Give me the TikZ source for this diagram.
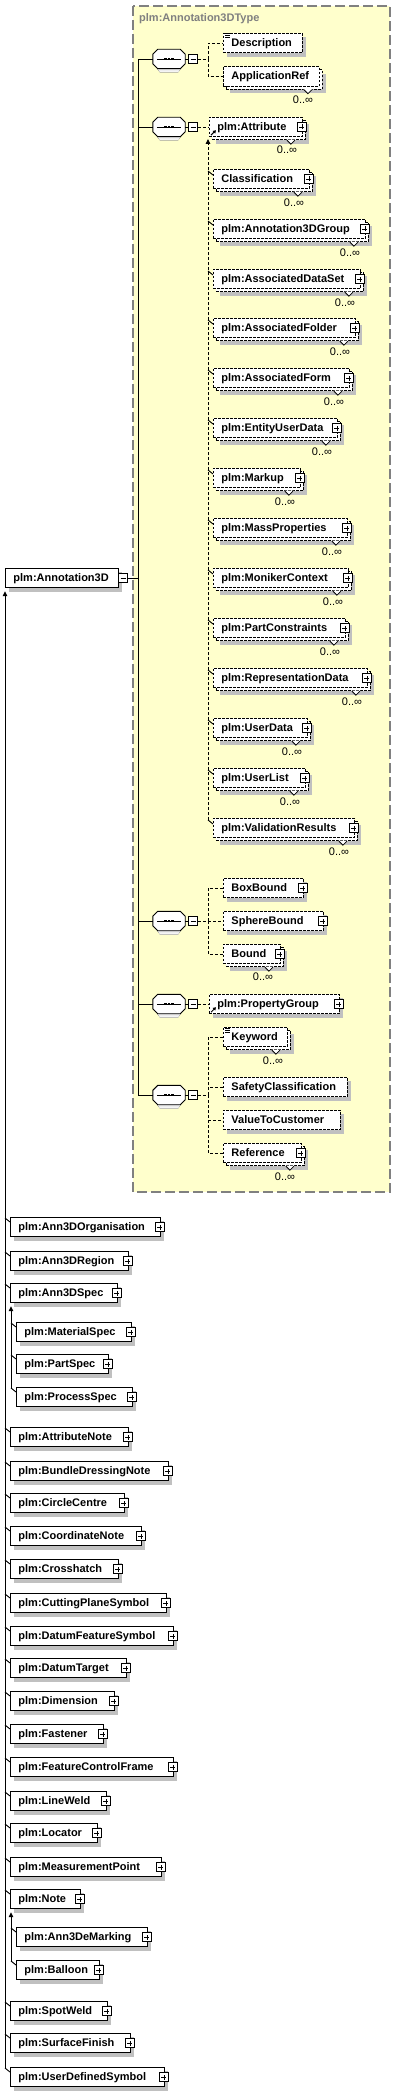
\documentclass[tikz,border=0pt]{standalone}
\usepackage{fontspec}
\usetikzlibrary{shadows}
\usetikzlibrary{arrows.meta}
\newfontfamily\xsdfont{Liberation Sans}
\newcommand{\elemfont}{\xsdfont\bfseries\fontsize{11}{13}\selectfont}
\newcommand{\occfont}{\xsdfont\fontsize{11}{13}\selectfont}
\definecolor{typebg}{RGB}{255,255,204}
\definecolor{typeline}{RGB}{128,128,128}
\definecolor{shade}{RGB}{192,192,192}
\tikzset{box/.style={draw, fill=white, line width=.9pt, anchor=west,
   inner xsep=8pt, inner ysep=0pt, minimum height=19.5pt,
   text height=8.5pt, text depth=1.5pt, align=left, font=\elemfont},
 optional/.style={dash pattern=on 2.5pt off 1.5pt},
 single/.style={box, drop shadow={shadow xshift=4pt, shadow yshift=-4pt,
   fill=shade, draw=none, opacity=1}},
 multi/.style={box,
   general shadow={shadow xshift=7pt, shadow yshift=-7pt, fill=shade, draw=none},
   general shadow={shadow xshift=3pt, shadow yshift=-3pt, fill=white, draw=black,
     line width=.9pt, dash pattern=on 2.5pt off 1.5pt}},
 seqbox/.style={minimum width=32pt, minimum height=19pt, inner sep=0pt},
 octagon/.pic={\fill[shade] (9,4) -- (-9,4) -- (-12,8) -- (-12,19) -- (-9,23)
     -- (9,23) -- (12,19) -- (12,8) -- cycle;},
 btn/.style={draw, fill=white, line width=.7pt, minimum size=9pt, inner sep=0pt},
 minusbtn/.style={btn, path picture={
   \draw[line width=.7pt] ([xshift=2pt]path picture bounding box.west)
     -- ([xshift=-2pt]path picture bounding box.east);}},
 plusbtn/.style={btn, path picture={
   \draw[line width=.7pt] ([xshift=2pt]path picture bounding box.west)
     -- ([xshift=-2pt]path picture bounding box.east)
     ([yshift=2pt]path picture bounding box.south)
     -- ([yshift=-2pt]path picture bounding box.north);}},
 occ/.style={font=\occfont, inner sep=0pt},
 conn/.style={line width=.9pt},
 dconn/.style={conn, dash pattern=on 3pt off 2pt},
 subarrow/.style={conn, -{Triangle[width=4.5pt,length=5pt]}},
 notch/.pic={\fill[white] (-4.5,-0.6) -- (4.5,-0.6) -- (0,4) -- cycle;
   \draw[line width=.8pt] (-4,0) -- (0,4) -- (4,0);},
 simple/.pic={\draw[line width=.6pt] (0,0) -- (5,0) (0,2) -- (5,2) (0,4) -- (5,4);},
 refmark/.pic={\draw[line width=1pt,-{Triangle[width=3.5pt,length=3pt]}] (0,0) -- (5,-5);},
}

\begin{document}
\begin{tikzpicture}[x=1pt,y=-1pt]
    \fill[white] (0,0) rectangle (401,2092);
    \useasboundingbox (0,0) rectangle (401,2092);

    % complex type frame
    \draw[typeline, fill=typebg, line width=1.2pt, dash pattern=on 10pt off 4pt] (133,6) rectangle (390,1192);
    \node[font=\elemfont, text=typeline, inner sep=0pt, anchor=west] (typename) at (139,19) {plm:Annotation3DType};

    % root element
    \node[single, text width=97pt] (annot) at (5,578) {plm:Annotation3D};
    \node[minusbtn] (annot-btn) at (123,578) {};
    \coordinate (spine) at (138,578);
    \draw[conn] (annot-btn) -- (spine);

    % sequences
    \foreach \yy [count=\s] in {59,127,921,1004,1095} {
        \node[seqbox] (seq\s) at (169,\yy) {};
        \pic at ([shift={(0,-9.5)}]seq\s.center) {octagon};
        \draw[conn, fill=white] ([shift={(5,0)}]seq\s.north west) -- ([shift={(-5,0)}]seq\s.north east)
            -- ([shift={(0,5)}]seq\s.north east) -- ([shift={(0,-5)}]seq\s.south east)
            -- ([shift={(-5,0)}]seq\s.south east) -- ([shift={(5,0)}]seq\s.south west)
            -- ([shift={(0,-5)}]seq\s.south west) -- ([shift={(0,5)}]seq\s.north west) -- cycle;
        \node[minusbtn] (seq\s-btn) at (193,\yy) {};
        \draw[conn] (seq\s.west) -| (spine);
        \draw[conn] (seq\s.east) -- (seq\s-btn.west);
        \draw[conn] ([shift={(4,0)}]seq\s.west) -- ([shift={(-4,0)}]seq\s.east);
        \foreach \d in {-3.5,0,3.5}
            \fill ([shift={(\d-1.2,-1.2)}]seq\s.center) rectangle ++(2.4,2.4);
    }

    % sequence 1
    \coordinate (fork1) at (208,59);
    \node[single, optional, text width=63pt] (desc) at (223,43) {Description};
    \pic at ([shift={(2,1)}]desc.north west) {simple};
    \node[multi, optional, text width=80pt] (appref) at (223,76.5) {ApplicationRef};
    \pic at ([shift={(-12,3)}]appref.south east) {notch};
    \node[occ] (appref-occ) at (303,100) {0..∞};
    \draw[dconn] (seq1-btn.east) -- (fork1) |- (desc.west);
    \draw[dconn] (fork1) |- (appref.west);

    % sequence 2: plm:Attribute and its substitutes
    \node[multi, optional, text width=77pt] (attr) at (209,127) {plm:Attribute};
    \node[plusbtn] (attr-btn) at ([shift={(-1,0)}]attr.east) {};
    \pic at ([shift={(-12,3)}]attr.south east) {notch};
    \pic at ([shift={(2,-2)}]attr.south west) {refmark};
    \node[occ] (attr-occ) at (287,150) {0..∞};
    \draw[dconn] (seq2-btn.east) -- (attr.west);
    \coordinate (attr-sub) at (208,139);
    \coordinate (attr-end) at (208,820);
    \draw[dconn, subarrow] (attr-end) -- (attr-sub);
    \foreach \name/\outer/\yy [count=\i] in {Classification/312/179,
        plm:Annotation3DGroup/368/229, plm:AssociatedDataSet/363/279,
        plm:AssociatedFolder/358/328, plm:AssociatedForm/352/378,
        plm:EntityUserData/340/428, plm:Markup/303/478,
        plm:MassProperties/350/528, plm:MonikerContext/351/578,
        plm:PartConstraints/348/628, plm:RepresentationData/370/678,
        plm:UserData/310/728, plm:UserList/308/778,
        plm:ValidationResults/357/828} {
        \pgfmathsetmacro\tw{\outer-3-213-16}
        \node[multi, optional, text width=\tw pt] (sub\i) at (213,\yy) {\mbox{\name}};
        \node[plusbtn] (sub\i-btn) at ([shift={(-1,0)}]sub\i.east) {};
        \pic at ([shift={(-12,3)}]sub\i.south east) {notch};
        \node[occ] (sub\i-occ) at (\outer-18,\yy+24) {0..∞};
        \draw[conn] ([shift={(-5,-8)}]sub\i.west) -- ([shift={(0,-4)}]sub\i.west);
    }

    % sequence 3
    \coordinate (fork3) at (208,921);
    \node[single, optional, text width=64pt] (boxbound) at (223,888) {BoxBound};
    \node[plusbtn] (boxbound-btn) at ([shift={(-1,0)}]boxbound.east) {};
    \node[single, optional, text width=84pt] (sphere) at (223,921) {SphereBound};
    \node[plusbtn] (sphere-btn) at ([shift={(-1,0)}]sphere.east) {};
    \node[multi, optional, text width=41pt] (bound) at (223,954) {Bound};
    \node[plusbtn] (bound-btn) at ([shift={(-1,0)}]bound.east) {};
    \pic at ([shift={(-12,3)}]bound.south east) {notch};
    \node[occ] (bound-occ) at (263,977) {0..∞};
    \draw[dconn] (seq3-btn.east) -- (fork3) |- (boxbound.west);
    \draw[dconn] (fork3) -- (sphere.west);
    \draw[dconn] (fork3) |- (bound.west);

    % sequence 4
    \node[single, optional, text width=114pt] (propgrp) at (209,1004) {plm:PropertyGroup};
    \node[plusbtn] (propgrp-btn) at ([shift={(-1,0)}]propgrp.east) {};
    \pic at ([shift={(2,-2)}]propgrp.south west) {refmark};
    \draw[dconn] (seq4-btn.east) -- (propgrp.west);

    % sequence 5
    \coordinate (fork5) at (208,1095);
    \node[multi, optional, text width=48pt] (keyword) at (223,1037) {Keyword};
    \pic at ([shift={(2,1)}]keyword.north west) {simple};
    \pic at ([shift={(-12,3)}]keyword.south east) {notch};
    \node[occ] (keyword-occ) at (273,1061) {0..∞};
    \node[single, optional, text width=108pt] (safety) at (223,1087) {SafetyClassification};
    \node[single, optional, text width=101pt] (value) at (223,1120) {ValueToCustomer};
    \node[multi, optional, text width=62pt] (ref) at (223,1153) {Reference};
    \node[plusbtn] (ref-btn) at ([shift={(-1,0)}]ref.east) {};
    \pic at ([shift={(-12,3)}]ref.south east) {notch};
    \node[occ] (ref-occ) at (285,1177) {0..∞};
    \draw[dconn] (seq5-btn.east) -- (fork5) |- (keyword.west);
    \draw[dconn] (fork5) |- (safety.west);
    \draw[dconn] (fork5) |- (value.west);
    \draw[dconn] (fork5) |- (ref.west);

    % derived types
    \foreach \name/\rgt/\yy/\lvl [count=\i] in {plm:Ann3DOrganisation/160/1227/0,
        plm:Ann3DRegion/128/1261/0, plm:Ann3DSpec/117/1293/0,
        plm:MaterialSpec/131/1332/1, plm:PartSpec/108/1364/1,
        plm:ProcessSpec/132/1397/1, plm:AttributeNote/128/1437/0,
        plm:BundleDressingNote/168/1471/0, plm:CircleCentre/124/1503/0,
        plm:CoordinateNote/141/1536/0, plm:Crosshatch/118/1569/0,
        plm:CuttingPlaneSymbol/166/1603/0, plm:DatumFeatureSymbol/173/1636/0,
        plm:DatumTarget/126/1668/0, plm:Dimension/114/1701/0,
        plm:Fastener/103/1734/0, plm:FeatureControlFrame/173/1767/0,
        plm:LineWeld/106/1801/0, plm:Locator/97/1833/0,
        plm:MeasurementPoint/161/1867/0, plm:Note/80/1899/0,
        plm:Ann3DeMarking/147/1937/1, plm:Balloon/99/1970/1,
        plm:SpotWeld/107/2011/0, plm:SurfaceFinish/130/2043/0,
        plm:UserDefinedSymbol/164/2077/0} {
        \pgfmathsetmacro\lft{10+6*\lvl}
        \pgfmathsetmacro\tw{\rgt-\lft-16}
        \node[single, text width=\tw pt] (der\i) at (\lft,\yy) {\mbox{\name}};
        \node[plusbtn] (der\i-btn) at ([shift={(-1,0)}]der\i.east) {};
        \draw[conn] ([shift={(-5,-9)}]der\i.west) -- ([shift={(0,-5)}]der\i.west);
    }
    \coordinate (annot-end) at (5,2068);
    \draw[subarrow] (annot-end) -- ([shift={(0,3)}]annot.south west);
    \coordinate (spec-end) at (11,1388);
    \draw[subarrow] (spec-end) -- ([shift={(1,3)}]der3.south west);
    \coordinate (note-end) at (11,1961);
    \draw[subarrow] (note-end) -- ([shift={(1,3)}]der21.south west);
\end{tikzpicture}
\end{document}
